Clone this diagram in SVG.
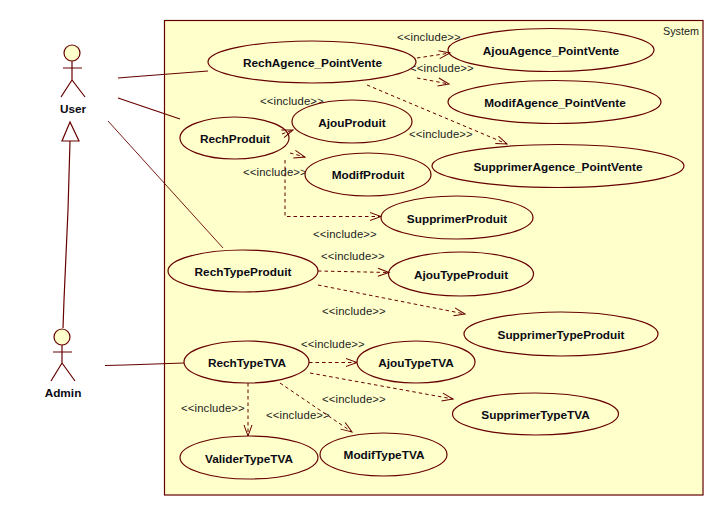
<svg xmlns="http://www.w3.org/2000/svg" width="724" height="516" viewBox="0 0 724 516">
<style>
.uc{fill:#ffffcc;stroke:#660000;stroke-width:1.2}
.a{fill:#ffffcc;stroke:#660000;stroke-width:1.2}
.al{fill:none;stroke:#660000;stroke-width:1.2}
.as{fill:none;stroke:#660000;stroke-width:1.2}
.inc{fill:none;stroke:#660000;stroke-width:1;stroke-dasharray:3.500 3;marker-end:url(#open)}
.n{font:bold 11.800px "Liberation Sans",Arial,sans-serif;fill:#0a0a14;text-anchor:middle}
.l{font:11.300px "Liberation Sans",Arial,sans-serif;fill:#222;letter-spacing:.15px}
</style>
<defs>
<marker id="open" markerUnits="userSpaceOnUse" markerWidth="14" markerHeight="12" refX="12" refY="6" orient="auto">
<path d="M1 2 L12 6 L1 10" fill="none" stroke="#660000" stroke-width="1"/>
</marker>
</defs>
<rect id="system" x="164.500" y="20.500" width="538.500" height="474.500" fill="#ffffcc" stroke="#660000" stroke-width="1.2"/>
<text class="l" x="663" y="35" style="font-size:10.800px;letter-spacing:0">System</text>
<g id="include-labels">
<text class="l" x="397" y="41">&lt;&lt;include&gt;&gt;</text>
<text class="l" x="410" y="72">&lt;&lt;include&gt;&gt;</text>
<text class="l" x="409" y="138">&lt;&lt;include&gt;&gt;</text>
<text class="l" x="260" y="105">&lt;&lt;include&gt;&gt;</text>
<text class="l" x="243" y="176">&lt;&lt;include&gt;&gt;</text>
<text class="l" x="313" y="238">&lt;&lt;include&gt;&gt;</text>
<text class="l" x="321" y="260">&lt;&lt;include&gt;&gt;</text>
<text class="l" x="322" y="315">&lt;&lt;include&gt;&gt;</text>
<text class="l" x="301" y="348">&lt;&lt;include&gt;&gt;</text>
<text class="l" x="322" y="403">&lt;&lt;include&gt;&gt;</text>
<text class="l" x="266" y="419">&lt;&lt;include&gt;&gt;</text>
<text class="l" x="181" y="412">&lt;&lt;include&gt;&gt;</text>
</g>
<g id="actor-user">
<circle class="a" cx="72" cy="53" r="8"/>
<path class="al" d="M63 68H82M72 61V80M61 97L72 80L85 97"/>
<text class="n" x="73" y="113">User</text>
</g>
<g id="actor-admin">
<circle class="a" cx="62" cy="337" r="8"/>
<path class="al" d="M53 352H72M62 345V363M51 381L62 363L75 381"/>
<text class="n" x="63" y="397">Admin</text>
</g>
<g id="RechAgence_PointVente"><ellipse class="uc" cx="312" cy="62" rx="104" ry="21"/><text class="n" x="312.500" y="67">RechAgence_PointVente</text></g>
<g id="AjouAgence_PointVente"><ellipse class="uc" cx="551" cy="50" rx="103" ry="21.500"/><text class="n" x="551" y="55">AjouAgence_PointVente</text></g>
<g id="ModifAgence_PointVente"><ellipse class="uc" cx="554.500" cy="102" rx="106.500" ry="21.500"/><text class="n" x="555" y="107">ModifAgence_PointVente</text></g>
<g id="SupprimerAgence_PointVente"><ellipse class="uc" cx="558" cy="166" rx="126" ry="21.500"/><text class="n" x="558" y="171">SupprimerAgence_PointVente</text></g>
<g id="RechProduit"><ellipse class="uc" cx="234.500" cy="138" rx="54.500" ry="21"/><text class="n" x="235" y="143">RechProduit</text></g>
<g id="AjouProduit"><ellipse class="uc" cx="352" cy="121.500" rx="60" ry="21.500"/><text class="n" x="352" y="127">AjouProduit</text></g>
<g id="ModifProduit"><ellipse class="uc" cx="368" cy="174.500" rx="63" ry="21.500"/><text class="n" x="368" y="179">ModifProduit</text></g>
<g id="SupprimerProduit"><ellipse class="uc" cx="457" cy="217.500" rx="76" ry="21.500"/><text class="n" x="457" y="223">SupprimerProduit</text></g>
<g id="RechTypeProduit"><ellipse class="uc" cx="243" cy="271" rx="75" ry="21"/><text class="n" x="243" y="276">RechTypeProduit</text></g>
<g id="AjouTypeProduit"><ellipse class="uc" cx="461" cy="274" rx="72.500" ry="22"/><text class="n" x="461" y="279">AjouTypeProduit</text></g>
<g id="SupprimerTypeProduit"><ellipse class="uc" cx="561" cy="334" rx="97" ry="22"/><text class="n" x="561" y="339">SupprimerTypeProduit</text></g>
<g id="RechTypeTVA"><ellipse class="uc" cx="246.500" cy="362" rx="62.500" ry="21"/><text class="n" x="247" y="367">RechTypeTVA</text></g>
<g id="AjouTypeTVA"><ellipse class="uc" cx="416" cy="362" rx="59" ry="21"/><text class="n" x="416" y="367">AjouTypeTVA</text></g>
<g id="SupprimerTypeTVA"><ellipse class="uc" cx="535.500" cy="414" rx="83" ry="21"/><text class="n" x="535.500" y="419">SupprimerTypeTVA</text></g>
<g id="ModifTypeTVA"><ellipse class="uc" cx="383.500" cy="454.500" rx="63.500" ry="21.500"/><text class="n" x="384" y="459">ModifTypeTVA</text></g>
<g id="ValiderTypeTVA"><ellipse class="uc" cx="249" cy="457.500" rx="69" ry="21.500"/><text class="n" x="249" y="463">ValiderTypeTVA</text></g>
<g id="connectors">
<polyline class="as" points="118,78 130,77 208,71"/>
<line class="as" x1="118" y1="98" x2="180" y2="119"/>
<line class="as" style="stroke-width:.9" x1="108" y1="121" x2="223" y2="248"/>
<polyline class="as" points="105,365.500 125,365 184,363"/>
<polyline class="as" points="70,141 68,210 64,300 63,328"/>
<polygon points="70,122 62,141 79,141" fill="#fff" stroke="#660000" stroke-width="1.2"/>
<line class="inc" x1="417" y1="58" x2="450" y2="53"/>
<line class="inc" x1="417" y1="78" x2="449" y2="84"/>
<line class="inc" x1="367" y1="85" x2="507" y2="144"/>
<line class="inc" x1="282" y1="134" x2="293" y2="130"/>
<line class="inc" x1="290" y1="153" x2="305" y2="157"/>
<polyline class="inc" points="285,160 285,216.500 381,216.500"/>
<line class="inc" x1="318" y1="271" x2="389" y2="272.500"/>
<line class="inc" x1="318" y1="285" x2="465" y2="314"/>
<line class="inc" x1="309" y1="362.500" x2="357" y2="362.500"/>
<line class="inc" x1="310" y1="373" x2="453" y2="399"/>
<line class="inc" x1="280" y1="383" x2="352" y2="432"/>
<line class="inc" x1="248" y1="383" x2="248" y2="436"/>
</g>
</svg>
